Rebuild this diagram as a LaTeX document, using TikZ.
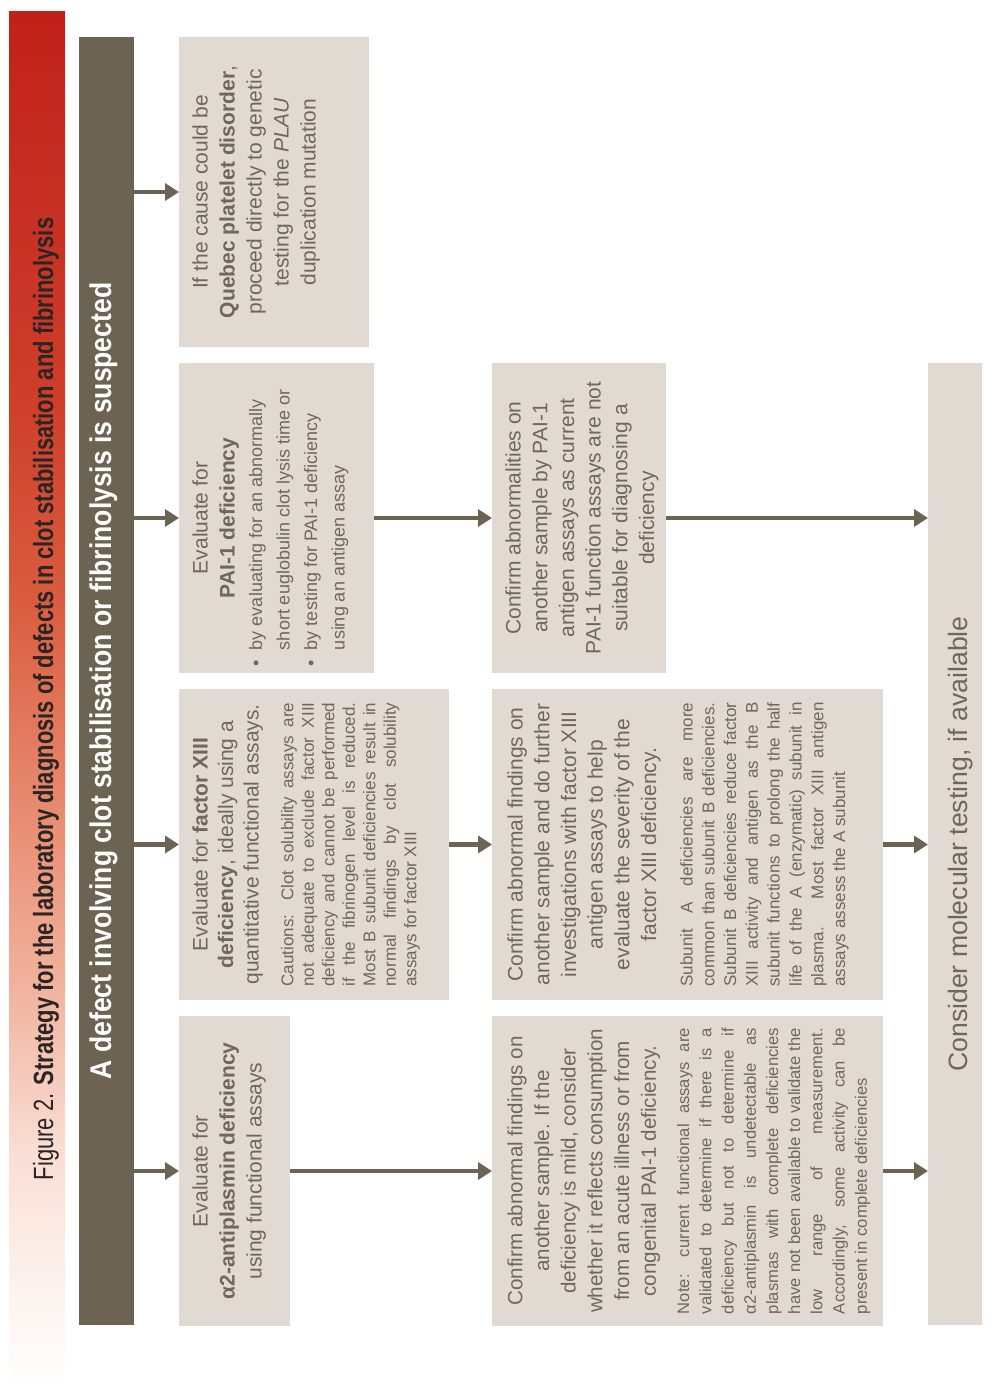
\documentclass[tikz,border=0pt]{standalone}
\usepackage{fontspec}
\setmainfont{Liberation Sans}
\newfontfamily\capfont[FakeStretch=0.79]{Liberation Sans}
\newfontfamily\ttlfont[FakeStretch=0.885]{Liberation Sans}
\usetikzlibrary{arrows.meta,calc}
\definecolor{barbrown}{HTML}{6D6352}
\definecolor{boxfill}{HTML}{E0DAD2}
\definecolor{txtc}{HTML}{72665A}
\definecolor{capc}{HTML}{2A2424}
\definecolor{rA}{RGB}{192,33,26}
\definecolor{rB}{RGB}{206,62,42}
\definecolor{rC}{RGB}{218,92,62}
\definecolor{rD}{RGB}{234,148,122}
\definecolor{rE}{RGB}{241,182,162}
\definecolor{rF}{RGB}{249,222,212}
\definecolor{rG}{RGB}{253,244,240}
\newcommand\LnC[1]{\hbox to\hsize{\hfil#1\hfil}}
\newcommand\LnJ[1]{\hbox to\hsize{#1}}
\newcommand\LnL[1]{\hbox to\hsize{#1\hfil}}
\newcommand\TBox[2]{\vtop{\hsize=#1\relax\parindent=0pt #2}}
\newcommand\mainfs{\fontsize{10.5pt}{13.5pt}\selectfont}
\newcommand\bulfs{\fontsize{9pt}{13.75pt}\selectfont}
\newcommand\smfs[2]{\fontsize{#1}{#2}\selectfont}
\tikzset{
  boxn/.style={fill=boxfill, draw=none, inner sep=0pt, outer sep=0pt, anchor=north west},
  txt/.style={rotate=90, anchor=north, inner sep=0pt, text=txtc},
  arr/.style={draw=barbrown, line width=2.4pt, -{Triangle[length=7pt,width=8.5pt]}}
}
\begin{document}
\begin{tikzpicture}[x=0.5pt,y=-0.5pt]
\useasboundingbox (0,0) rectangle (994,1386);
% red gradient bar
\shade[top color=rA, bottom color=rB] (9,12) rectangle (65,401);
\shade[top color=rB, bottom color=rC] (9,400) rectangle (65,601);
\shade[top color=rC, bottom color=rD] (9,600) rectangle (65,851);
\shade[top color=rD, bottom color=rE] (9,850) rectangle (65,1001);
\shade[top color=rE, bottom color=rF] (9,1000) rectangle (65,1151);
\shade[top color=rF, bottom color=rG] (9,1150) rectangle (65,1301);
\shade[top color=rG, bottom color=white] (9,1300) rectangle (65,1386);
\node[rotate=90, anchor=base, inner sep=0pt, text=capc] (caption) at (53,699)
  {\capfont\fontsize{13.9pt}{16pt}\selectfont Figure 2. \textbf{Strategy for the laboratory diagnosis of defects in clot stabilisation and fibrinolysis}};
% brown bar
\node[boxn, fill=barbrown, minimum width=27.5pt, minimum height=644pt] (bar) at (79,37) {};
\node[rotate=90, anchor=base, inner sep=0pt, text=white] (bartext) at (111,681)
  {\ttlfont\bfseries\fontsize{15pt}{18pt}\selectfont A defect involving clot stabilisation or fibrinolysis is suspected};
% column 1
\node[boxn, minimum width=95pt, minimum height=155pt] (quebec) at (179,37) {};
\node[boxn, minimum width=97.5pt, minimum height=155pt] (paieval) at (179,363) {};
\node[boxn, minimum width=135pt, minimum height=155.5pt] (f13eval) at (179,689) {};
\node[boxn, minimum width=55.5pt, minimum height=155pt] (a2eval) at (179,1016) {};
% column 2
\node[boxn, minimum width=87pt, minimum height=155pt] (paiconf) at (492,363) {};
\node[boxn, minimum width=195.5pt, minimum height=155.5pt] (f13conf) at (492,689) {};
\node[boxn, minimum width=195.5pt, minimum height=155pt] (a2conf) at (492,1016) {};
% column 3
\node[boxn, minimum width=27pt, minimum height=481pt] (mol) at (928,363) {};
\node[rotate=90, anchor=base, inner sep=0pt, text=txtc] (moltext) at (967,844)
  {\fontsize{13.3pt}{16pt}\selectfont Consider molecular testing, if available};
% texts column 1
\node[txt] (quebect) at ($(quebec.west)+(13,0)$) {\TBox{147pt}{\mainfs
  \LnC{If the cause could be}
  \LnC{\textbf{Quebec platelet disorder},}
  \LnC{proceed directly to genetic}
  \LnC{testing for the \textit{PLAU}}
  \LnC{duplication mutation}}};
\node[txt] (paievalt) at ($(paieval.west)+(13,0)$) {\TBox{148pt}{%
  {\mainfs
  \LnC{Evaluate for}
  \LnC{\textbf{PAI-1 deficiency}}}
  {\bulfs
  \LnL{\makebox[8pt][l]{\textbullet}by evaluating for an abnormally}
  \LnL{\hspace*{8pt}short euglobulin clot lysis time or}
  \LnL{\makebox[8pt][l]{\textbullet}by testing for PAI-1 deficiency}
  \LnL{\hspace*{8pt}using an antigen assay}}}};
\node[txt] (f13evalt) at ($(f13eval.west)+(13,0)$) {\TBox{142pt}{%
  {\fontsize{10.5pt}{12.75pt}\selectfont
  \LnC{Evaluate for \textbf{factor XIII}}
  \LnC{\textbf{deficiency}, ideally using a}
  \LnC{quantitative functional assays.}}
  \vskip 7.1pt
  {\smfs{8.5pt}{10.25pt}
  \LnJ{Cautions: Clot solubility assays are}
  \LnJ{not adequate to exclude factor XIII}
  \LnJ{deficiency and cannot be performed}
  \LnJ{if the fibrinogen level is reduced.}
  \LnJ{Most B subunit deficiencies result in}
  \LnJ{normal findings by clot solubility}
  \LnL{assays for factor XIII}}}};
\node[txt] (a2evalt) at ($(a2eval.west)+(13,0)$) {\TBox{147pt}{\mainfs
  \LnC{Evaluate for}
  \LnC{\textbf{α2-antiplasmin deficiency}}
  \LnC{using functional assays}}};
% texts column 2
\node[txt] (paiconft) at ($(paiconf.west)+(13,0)$) {\TBox{147pt}{\fontsize{10.5pt}{13.35pt}\selectfont
  \LnC{Confirm abnormalities on}
  \LnC{another sample by PAI-1}
  \LnC{antigen assays as current}
  \LnC{PAI-1 function assays are not}
  \LnC{suitable for diagnosing a}
  \LnC{deficiency}}};
\node[txt] (f13conft) at ($(f13conf.west)+(15,0)$) {\TBox{142pt}{%
  {\fontsize{10.5pt}{13.35pt}\selectfont
  \LnC{Confirm abnormal findings on}
  \LnC{another sample and do further}
  \LnC{investigations with factor XIII}
  \LnC{antigen assays to help}
  \LnC{evaluate the severity of the}
  \LnC{factor XIII deficiency.}}
  \vskip 7.3pt
  {\smfs{8.5pt}{10.9pt}
  \LnJ{Subunit A deficiencies are more}
  \LnJ{common than subunit B deficiencies.}
  \LnJ{Subunit B deficiencies reduce factor}
  \LnJ{XIII activity and antigen as the B}
  \LnJ{subunit functions to prolong the half}
  \LnJ{life of the A (enzymatic) subunit in}
  \LnJ{plasma. Most factor XIII antigen}
  \LnL{assays assess the A subunit}}}};
\node[txt] (a2conft) at ($(a2conf.west)+(15,0)$) {\TBox{143pt}{%
  {\fontsize{10.3pt}{13.35pt}\selectfont
  \LnC{Confirm abnormal findings on}
  \LnC{another sample. If the}
  \LnC{deficiency is mild, consider}
  \LnC{whether it reflects consumption}
  \LnC{from an acute illness or from}
  \LnC{congenital PAI-1 deficiency.}}
  \vskip 5.6pt
  {\smfs{8.3pt}{11.1pt}
  \LnJ{Note: current functional assays are}
  \LnJ{validated to determine if there is a}
  \LnJ{deficiency but not to determine if}
  \LnJ{α2-antiplasmin is undetectable as}
  \LnJ{plasmas with complete deficiencies}
  \LnJ{have not been available to validate the}
  \LnJ{low range of measurement.}
  \LnJ{Accordingly, some activity can be}
  \LnL{present in complete deficiencies}}}};
% arrows
\draw[arr] (bar.east |- quebec.west) -- (quebec.west);
\draw[arr] (bar.east |- paieval.west) -- (paieval.west);
\draw[arr] (bar.east |- f13eval.west) -- (f13eval.west);
\draw[arr] (bar.east |- a2eval.west) -- (a2eval.west);
\draw[arr] (paieval.east) -- (paiconf.west);
\draw[arr] (f13eval.east) -- (f13conf.west);
\draw[arr] (a2eval.east) -- (a2conf.west);
\draw[arr] (paiconf.east) -- (mol.west |- paiconf.east);
\draw[arr] (f13conf.east) -- (mol.west |- f13conf.east);
\draw[arr] (a2conf.east) -- (mol.west |- a2conf.east);
\end{tikzpicture}
\end{document}
